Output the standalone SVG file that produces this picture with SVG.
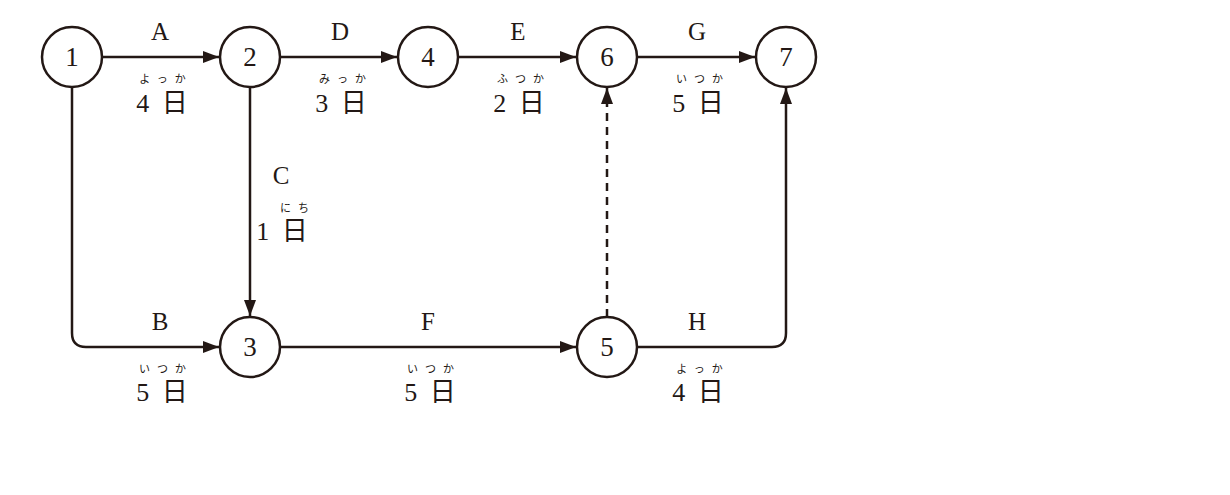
<svg xmlns="http://www.w3.org/2000/svg" width="1230" height="495" viewBox="0 0 1230 495">
<style>
.n{fill:#fff;stroke:#231815;stroke-width:2.5}
.nt{font-family:"Liberation Serif","Noto Sans CJK JP",serif;font-size:27px;fill:#231815;text-anchor:middle}
.l{font-family:"Liberation Serif","Noto Sans CJK JP",serif;font-size:25px;fill:#231815;text-anchor:middle}
.d{font-family:"Liberation Serif","Noto Sans CJK JP",serif;font-size:26px;fill:#231815;text-anchor:middle}
.f{font-family:"Noto Sans CJK JP",sans-serif;font-size:11px;fill:#231815;text-anchor:middle;letter-spacing:7px}
.c{fill:none;stroke:#231815;stroke-width:2.5}
.dash{stroke-dasharray:8 6}
</style>
<defs>
<marker id="ah" viewBox="0 0 16 12" refX="16" refY="6" markerWidth="16" markerHeight="12" markerUnits="userSpaceOnUse" orient="auto">
<path d="M0,0 L16,6 L0,12 Z" fill="#231815"/>
</marker>
</defs>
<g id="connectors">
<line class="c" x1="102" y1="57" x2="219" y2="57" marker-end="url(#ah)"/>
<line class="c" x1="280" y1="57" x2="397" y2="57" marker-end="url(#ah)"/>
<line class="c" x1="458" y1="57" x2="576" y2="57" marker-end="url(#ah)"/>
<line class="c" x1="637" y1="57" x2="755" y2="57" marker-end="url(#ah)"/>
<path class="c" d="M72,87 V333 Q72,347 86,347 H219" marker-end="url(#ah)"/>
<line class="c" x1="250" y1="87" x2="250" y2="316" marker-end="url(#ah)"/>
<line class="c" x1="280" y1="347" x2="576" y2="347" marker-end="url(#ah)"/>
<line class="c dash" x1="607" y1="317" x2="607" y2="88" marker-end="url(#ah)"/>
<path class="c" d="M637,347 H772 Q786,347 786,333 V88" marker-end="url(#ah)"/>
</g>
<g id="node1"><circle class="n" cx="72" cy="57" r="30"/><text class="nt" x="72" y="66">1</text></g>
<g id="node2"><circle class="n" cx="250" cy="57" r="30"/><text class="nt" x="250" y="66">2</text></g>
<g id="node4"><circle class="n" cx="428" cy="57" r="30"/><text class="nt" x="428" y="66">4</text></g>
<g id="node6"><circle class="n" cx="607" cy="57" r="30"/><text class="nt" x="607" y="66">6</text></g>
<g id="node7"><circle class="n" cx="786" cy="57" r="30"/><text class="nt" x="786" y="66">7</text></g>
<g id="node3"><circle class="n" cx="250" cy="347" r="30"/><text class="nt" x="250" y="356">3</text></g>
<g id="node5"><circle class="n" cx="607" cy="347" r="30"/><text class="nt" x="607" y="356">5</text></g>
<g id="labels">
<text class="l" x="160" y="40">A</text>
<text class="f" x="166" y="83">よっか</text>
<text class="d" x="162" y="112">4<tspan dx="6"> 日</tspan></text>
<text class="l" x="340" y="40">D</text>
<text class="f" x="346" y="83">みっか</text>
<text class="d" x="341" y="112">3<tspan dx="6"> 日</tspan></text>
<text class="l" x="518" y="40">E</text>
<text class="f" x="524" y="83">ふつか</text>
<text class="d" x="519" y="112">2<tspan dx="6"> 日</tspan></text>
<text class="l" x="697" y="40">G</text>
<text class="f" x="703" y="83">いつか</text>
<text class="d" x="698" y="112">5<tspan dx="6"> 日</tspan></text>
<text class="l" x="281" y="184">C</text>
<text class="f" x="298" y="212">にち</text>
<text class="d" x="282" y="240">1<tspan dx="6"> 日</tspan></text>
<text class="l" x="160" y="330">B</text>
<text class="f" x="166" y="373">いつか</text>
<text class="d" x="162" y="401">5<tspan dx="6"> 日</tspan></text>
<text class="l" x="428" y="330">F</text>
<text class="f" x="434" y="373">いつか</text>
<text class="d" x="430" y="401">5<tspan dx="6"> 日</tspan></text>
<text class="l" x="697" y="330">H</text>
<text class="f" x="703" y="373">よっか</text>
<text class="d" x="698" y="401">4<tspan dx="6"> 日</tspan></text>
</g>
</svg>
